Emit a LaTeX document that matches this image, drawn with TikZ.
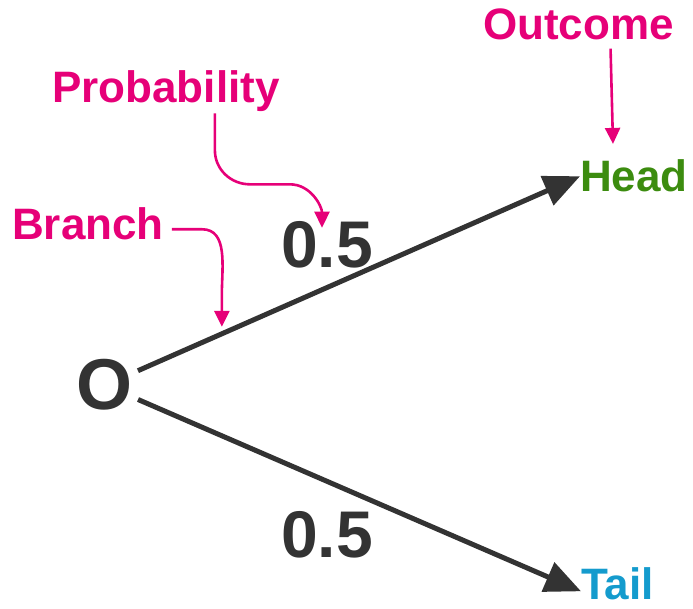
\documentclass[tikz,border=0pt]{standalone}
\usepackage{fontspec}
\setmainfont{Liberation Sans}
\usetikzlibrary{arrows.meta,calc}
\definecolor{ink}{RGB}{51,51,51}
\definecolor{mag}{RGB}{230,0,120}
\definecolor{headc}{RGB}{60,140,15}
\definecolor{tailc}{RGB}{20,155,205}
\tikzset{
  lbl/.style={inner sep=0pt,anchor=base west,font=\bfseries\fontsize{44}{44}\selectfont},
  prob/.style={inner sep=0pt,anchor=base,text=ink,font=\bfseries\fontsize{66}{66}\selectfont},
  branchline/.style={draw=ink,line width=5pt,-{Triangle[length=36pt,width=31pt]}},
  magarrow/.style={draw=mag,line width=2.6pt,-{Triangle[length=16pt,width=15pt]}}
}
\begin{document}
\begin{tikzpicture}[x=1pt,y=1pt]
\useasboundingbox (0,0) rectangle (693,609);
\node[inner sep=0pt,anchor=base,text=ink,font=\bfseries\fontsize{72}{72}\selectfont] (O) at (105,199) {O};
\node[prob] (p1) at (327,341) {0.5};
\node[prob] (p2) at (327,51) {0.5};
\node[lbl,text=headc] (head) at (580,417) {Head};
\node[lbl,text=tailc] (tail) at (581,9) {Tail};
\node[lbl,text=mag] (outcome) at (483,569) {Outcome};
\node[lbl,text=mag] (probl) at (52,506) {Probability};
\node[lbl,text=mag] (branch) at (12,369) {Branch};
% branches
\draw[branchline,shorten <=36pt] (O.center) -- (head.west);
\draw[branchline,shorten <=36pt] (O.center) -- ([yshift=-7pt]tail.west);
\coordinate (bpt) at ($(O.center)!0.246!(head.west)$);
% annotations
\draw[magarrow] ([xshift=32pt,yshift=-8pt]outcome.south) -- ([xshift=-21pt,yshift=16pt]head.north);
\draw[magarrow] ([xshift=49pt,yshift=-1pt]probl.south) -- ++(0,-37pt) to[out=-90,in=180] ++(35pt,-34pt) -- ++(40pt,0) to[out=0,in=90] ([xshift=-5pt,yshift=-6pt]p1.north);
\draw[magarrow,shorten >=7pt] ([xshift=8pt,yshift=-5pt]branch.east) -- ++(30pt,0) to[out=0,in=90] ($(bpt)+(0,40pt)$) -- (bpt);
\end{tikzpicture}
\end{document}
